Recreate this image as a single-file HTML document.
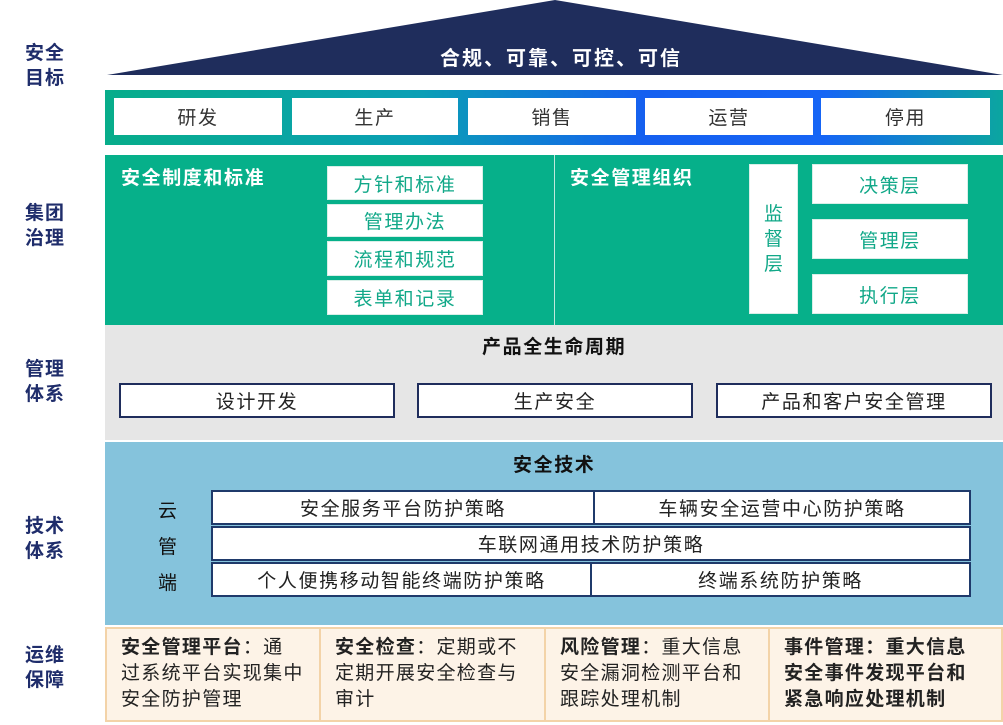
<!DOCTYPE html>
<html><head><meta charset="utf-8"><style>
*{margin:0;padding:0;box-sizing:border-box}
body{width:1003px;height:725px;background:#fff;position:relative;overflow:hidden;font-family:"Liberation Sans","Noto Sans CJK SC",sans-serif;letter-spacing:1.6px}
.a{position:absolute}
.lbl{position:absolute;left:22px;width:46px;color:#1f2d6b;font-weight:bold;font-size:19px;line-height:25px;text-align:center;letter-spacing:1px}
.wb{position:absolute;background:#fff;display:flex;align-items:center;justify-content:center;font-size:19px}
.g{color:#11a888;border:1px solid #d8efe8}
.nb{border:2px solid #1f2d5c;color:#222}
.tb{border:2px solid #1f3a6b;color:#222}
.t{position:absolute;font-weight:bold;font-size:19px}
.op{position:absolute;top:627px;height:95px;border:2px solid #f3d3a8;background:#fdf3e7;font-size:19px;line-height:26px;color:#222;padding:6px 0 0 14px;letter-spacing:1.3px;white-space:nowrap}
</style></head><body>
<div class="lbl" style="top:41px">安全<br>目标</div>
<div class="lbl" style="top:201px">集团<br>治理</div>
<div class="lbl" style="top:357px">管理<br>体系</div>
<div class="lbl" style="top:514px">技术<br>体系</div>
<div class="lbl" style="top:643px">运维<br>保障</div>

<svg class="a" style="left:0;top:0" width="1003" height="80"><polygon points="107,75 555,0 1003,75" fill="#1f2d5c"/></svg>
<div class="t" style="left:440px;top:42px;color:#fff;font-size:20px;letter-spacing:2px">合规、可靠、可控、可信</div>

<div class="a" style="left:105px;top:90px;width:898px;height:55px;background:linear-gradient(90deg,#07ad8a 0%,#0a9fb5 35%,#1560f0 60%,#1665f5 80%,#0ba6a0 100%)"></div>
<div class="wb" style="left:114px;top:98px;width:168px;height:37px;color:#333">研发</div>
<div class="wb" style="left:292px;top:98px;width:166px;height:37px;color:#333">生产</div>
<div class="wb" style="left:468px;top:98px;width:168px;height:37px;color:#333">销售</div>
<div class="wb" style="left:645px;top:98px;width:168px;height:37px;color:#333">运营</div>
<div class="wb" style="left:821px;top:98px;width:169px;height:37px;color:#333">停用</div>

<div class="a" style="left:105px;top:155px;width:898px;height:170px;background:#06b08a"></div>
<div class="a" style="left:554px;top:155px;width:1px;height:170px;background:#bfe8dc"></div>
<div class="t" style="left:121px;top:163px;color:#fff">安全制度和标准</div>
<div class="t" style="left:570px;top:163px;color:#fff">安全管理组织</div>
<div class="wb g" style="left:327px;top:166px;width:156px;height:34px">方针和标准</div>
<div class="wb g" style="left:327px;top:204px;width:156px;height:33px">管理办法</div>
<div class="wb g" style="left:327px;top:241px;width:156px;height:35px">流程和规范</div>
<div class="wb g" style="left:327px;top:280px;width:156px;height:35px">表单和记录</div>
<div class="wb g" style="left:749px;top:164px;width:49px;height:150px;line-height:25px;text-align:center;letter-spacing:0">监<br>督<br>层</div>
<div class="wb g" style="left:812px;top:164px;width:156px;height:40px">决策层</div>
<div class="wb g" style="left:812px;top:219px;width:156px;height:40px">管理层</div>
<div class="wb g" style="left:812px;top:274px;width:156px;height:40px">执行层</div>

<div class="a" style="left:105px;top:325px;width:898px;height:115px;background:#e6e6e6"></div>
<div class="t" style="left:482px;top:332px;color:#111">产品全生命周期</div>
<div class="wb nb" style="left:119px;top:383px;width:276px;height:35px">设计开发</div>
<div class="wb nb" style="left:417px;top:383px;width:276px;height:35px">生产安全</div>
<div class="wb nb" style="left:716px;top:383px;width:276px;height:35px">产品和客户安全管理</div>

<div class="a" style="left:105px;top:442px;width:898px;height:183px;background:#85c3dc"></div>
<div class="t" style="left:513px;top:450px;color:#111">安全技术</div>
<div class="a" style="left:158px;top:494px;font-size:19px;line-height:36px;color:#111">云<br>管<br>端</div>
<div class="wb tb" style="left:211px;top:490px;width:384px;height:35px">安全服务平台防护策略</div>
<div class="wb tb" style="left:593px;top:490px;width:378px;height:35px">车辆安全运营中心防护策略</div>
<div class="wb tb" style="left:211px;top:526px;width:760px;height:35px">车联网通用技术防护策略</div>
<div class="wb tb" style="left:211px;top:562px;width:381px;height:35px">个人便携移动智能终端防护策略</div>
<div class="wb tb" style="left:590px;top:562px;width:381px;height:35px">终端系统防护策略</div>

<div class="op" style="left:105px;width:216px"><b>安全管理平台</b>：通<br>过系统平台实现集中<br>安全防护管理</div>
<div class="op" style="left:319px;width:227px"><b>安全检查</b>：定期或不<br>定期开展安全检查与<br>审计</div>
<div class="op" style="left:544px;width:226px"><b>风险管理</b>：重大信息<br>安全漏洞检测平台和<br>跟踪处理机制</div>
<div class="op" style="left:768px;width:235px;font-weight:bold">事件管理：重大信息<br>安全事件发现平台和<br>紧急响应处理机制</div>
</body></html>
